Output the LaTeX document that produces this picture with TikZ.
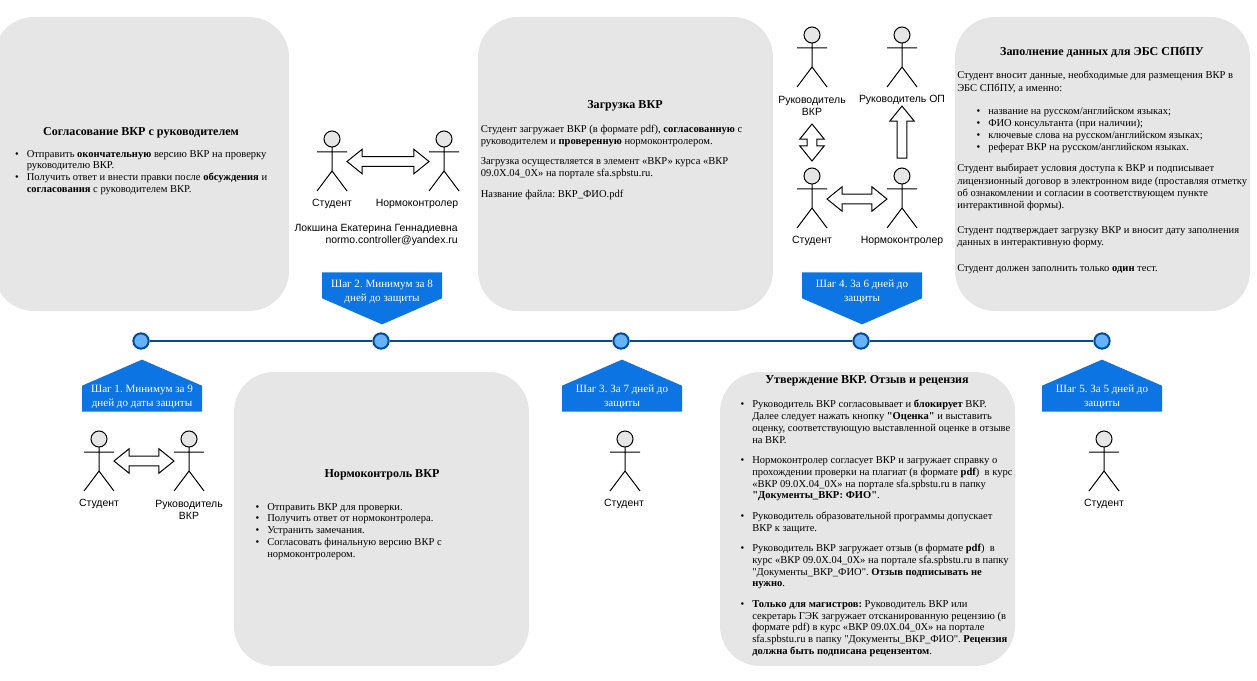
\documentclass[tikz,border=0pt]{standalone}
\usepackage{fontspec}
\setmainfont{Liberation Serif}[Ligatures=TeXOff]
\newfontfamily\actorfont{Liberation Sans}
\usepackage{xcolor}
\usetikzlibrary{shapes,shapes.arrows,shapes.symbols,positioning,calc}

\definecolor{boxgray}{HTML}{E6E6E6}
\definecolor{stepblue}{HTML}{0D74E3}
\definecolor{dotblue}{HTML}{66B2FF}
\definecolor{dotline}{HTML}{004C99}

\newcommand{\bul}{\makebox[0pt][r]{\textbullet\hspace{6pt}}}

\begin{document}
\frenchspacing
\begin{tikzpicture}[
    x=0.75pt, y=-0.75pt,
    greybox/.style={rectangle, fill=boxgray, minimum width=221.25pt, minimum height=220.5pt, rounded corners=30pt},
    heading/.style={inner sep=0pt, font=\fontsize{9.05}{11}\selectfont\bfseries},
    body/.style={inner sep=0pt, anchor=north west, align=left, font=\fontsize{7.9}{8.8}\selectfont},
    stepdown/.style={signal, signal to=south, signal pointer angle=133, fill=stepblue, inner sep=0pt, minimum width=90pt, minimum height=19.5pt, anchor=north},
    stepup/.style={signal, signal to=north, signal pointer angle=133, fill=stepblue, inner sep=0pt, minimum width=90pt, minimum height=19.5pt, anchor=south},
    steptext/.style={text=white, inner sep=0pt, align=center, font=\fontsize{8.3}{10.5}\selectfont},
    dot/.style={circle, draw=dotline, line width=1.5pt, fill=dotblue, minimum size=11.5pt, inner sep=0pt},
    timeline/.style={draw=dotline, line width=1.2pt},
    who/.style={inner sep=0pt, align=center, font=\actorfont\fontsize{7.85}{9}\selectfont},
    actorhead/.style={circle, draw, fill=boxgray, line width=0.75pt, minimum size=12pt, inner sep=0pt},
    twoway/.style={double arrow, draw, fill=white, line width=0.75pt, inner sep=3.2pt, double arrow head extend=5.6pt, double arrow head indent=0pt, double arrow tip angle=78},
    oneway/.style={single arrow, draw, fill=white, line width=0.75pt, inner sep=3.2pt, single arrow head extend=5.6pt, single arrow head indent=0pt, single arrow tip angle=78},
    actor/.pic={
        \draw[line width=0.75pt] (-15,21) -- (15,21) (0,16) -- (0,40) (-15,60) -- (0,40) -- (15,60);
        \node[actorhead] (-head) at (0,8) {};
    }
]
\useasboundingbox (0,0) rectangle (1257,681);

% Boxes
\node[greybox] (agree) at (141.5,164) {};
\node[greybox] (upload) at (625.5,164) {};
\node[greybox] (ebs) at (1102.5,164) {};
\node[greybox] (check) at (381.5,519) {};
\node[greybox] (approve) at (867.5,519) {};

% Box texts
\node[heading] (agreehead) at (141,133) {Согласование ВКР с руководителем};
\node[body] (agreetext) at (26.5,150) {\bul Отправить \textbf{окончательную} версию ВКР на проверку\\
руководителю ВКР.\\
\bul Получить ответ и внести правки после \textbf{обсуждения} и\\
\textbf{согласования} с руководителем ВКР.};

\node[heading] (uploadhead) at (625,106) {Загрузка ВКР};
\node[body] (uploadtext) at (480.5,125) {Студент загружает ВКР (в формате pdf), \textbf{согласованную} с\\
руководителем и \textbf{проверенную} нормоконтролером.\\[6.6pt]
Загрузка осуществляется в элемент «ВКР» курса «ВКР\\
09.0X.04\_0X» на портале sfa.spbstu.ru.\\[6.6pt]
Название файла: ВКР\_ФИО.pdf};

\node[heading] (ebshead) at (1102,52) {Заполнение данных для ЭБС СПбПУ};
\node[body, font=\fontsize{7.9}{9.2}\selectfont] (ebstext) at (957,71) {Студент вносит данные, необходимые для размещения ВКР в\\
ЭБС СПбПУ, а именно:\\[8pt]
\hspace*{23.25pt}\bul название на русском/английском языках;\\
\hspace*{23.25pt}\bul ФИО консультанта (при наличии);\\
\hspace*{23.25pt}\bul ключевые слова на русском/английском языках;\\
\hspace*{23.25pt}\bul реферат ВКР на русском/английском языках.\\[6.5pt]
Студент выбирает условия доступа к ВКР и подписывает\\
лицензионный договор в электронном виде (проставляя отметку\\
об ознакомлении и согласии в соответствующем пункте\\
интерактивной формы).\\[9.5pt]
Студент подтверждает загрузку ВКР и вносит дату заполнения\\
данных в интерактивную форму.\\[10.2pt]
Студент должен заполнить только \textbf{один} тест.};

\node[heading] (checkhead) at (382,475) {Нормоконтроль ВКР};
\node[body] (checktext) at (267,503) {\bul Отправить ВКР для проверки.\\
\bul Получить ответ от нормоконтролера.\\
\bul Устранить замечания.\\
\bul Согласовать финальную версию ВКР с\\
нормоконтролером.};

\node[heading] (approvehead) at (867,381) {Утверждение ВКР. Отзыв и рецензия};
\node[body] (approvetext) at (752,400) {\bul Руководитель ВКР согласовывает и \textbf{блокирует} ВКР.\\
Далее следует нажать кнопку \textbf{"Оценка"} и выставить\\
оценку, соответствующую выставленной оценке в отзыве\\
на ВКР.\\[6.6pt]
\bul Нормоконтролер согласует ВКР и загружает справку о\\
прохождении проверки на плагиат (в формате \textbf{pdf})\ \ в курс\\
«ВКР 09.0X.04\_0X» на портале sfa.spbstu.ru в папку\\
\textbf{"Документы\_ВКР: ФИО"}.\\[6.6pt]
\bul Руководитель образовательной программы допускает\\
ВКР к защите.\\[6.6pt]
\bul Руководитель ВКР загружает отзыв (в формате \textbf{pdf})\ \ в\\
курс «ВКР 09.0X.04\_0X» на портале sfa.spbstu.ru в папку\\
"Документы\_ВКР\_ФИО". \textbf{Отзыв подписывать не}\\
\textbf{нужно}.\\[6.6pt]
\bul \textbf{Только для магистров:} Руководитель ВКР или\\
секретарь ГЭК загружает отсканированную рецензию (в\\
формате pdf) в курс «ВКР 09.0X.04\_0X» на портале\\
sfa.spbstu.ru в папку "Документы\_ВКР\_ФИО". \textbf{Рецензия}\\
\textbf{должна быть подписана рецензентом}.};

% Timeline
\node[dot] (t1) at (141,341) {};
\node[dot] (t2) at (381,341) {};
\node[dot] (t3) at (621,341) {};
\node[dot] (t4) at (861,341) {};
\node[dot] (t5) at (1102,341) {};
\draw[timeline] (t1) -- (t2);
\draw[timeline] (t2) -- (t3);
\draw[timeline] (t3) -- (t4);
\draw[timeline] (t4) -- (t5);

% Steps
\node[stepup] (step1) at (142,412) {};
\node[steptext] at (142,396.5) (step1text) {Шаг 1. Минимум за 9\\дней до даты защиты};
\node[stepdown] (step2) at (382,272) {};
\node[steptext] at (382,292) (step2text) {Шаг 2. Минимум за 8\\дней до защиты};
\node[stepup] (step3) at (622,412) {};
\node[steptext] at (622,396.5) (step3text) {Шаг 3. За 7 дней до\\защиты};
\node[stepdown] (step4) at (862,272) {};
\node[steptext] at (862,292) (step4text) {Шаг 4. За 6 дней до\\защиты};
\node[stepup] (step5) at (1102,412) {};
\node[steptext] at (1102,396.5) (step5text) {Шаг 5. За 5 дней до\\защиты};

% Actors
\pic (stud1) at (99,431) {actor};
\pic (lead1) at (189,431) {actor};
\pic (stud2) at (332,131) {actor};
\pic (norm2) at (444,131) {actor};
\pic (stud3) at (625,431) {actor};
\pic (lead4) at (812,27) {actor};
\pic (head4) at (902,27) {actor};
\pic (stud4) at (812,168) {actor};
\pic (norm4) at (902,168) {actor};
\pic (stud5) at (1104,431) {actor};

\node[who] (stud1name) at (99,503.5) {Студент};
\node[who] (lead1name) at (189,509.5) {Руководитель\\ВКР};
\node[who] (stud2name) at (332,203.5) {Студент};
\node[who] (norm2name) at (417,203.5) {Нормоконтролер};
\node[who, anchor=east, align=right] (contact) at (458,235) {Локшина Екатерина Геннадиевна\\normo.controller@yandex.ru};
\node[who] (stud3name) at (624,503.5) {Студент};
\node[who] (lead4name) at (812,105.5) {Руководитель\\ВКР};
\node[who] (head4name) at (902,99.5) {Руководитель ОП};
\node[who] (stud4name) at (812,240.5) {Студент};
\node[who] (norm4name) at (902,240.5) {Нормоконтролер};
\node[who] (stud5name) at (1104,503.5) {Студент};

% Arrows
\node[twoway, minimum height=45pt] (arr1) at (144,461) {};
\node[twoway, minimum height=61.5pt] (arr2) at (388,161.5) {};
\node[twoway, minimum height=45pt] (arr3) at (857,199) {};
\node[twoway, minimum height=27.75pt, shape border rotate=90] (arr4) at (812,142.5) {};
\node[oneway, minimum height=39pt, shape border rotate=90] (arr5) at (902,135) {};

\end{tikzpicture}
\end{document}
